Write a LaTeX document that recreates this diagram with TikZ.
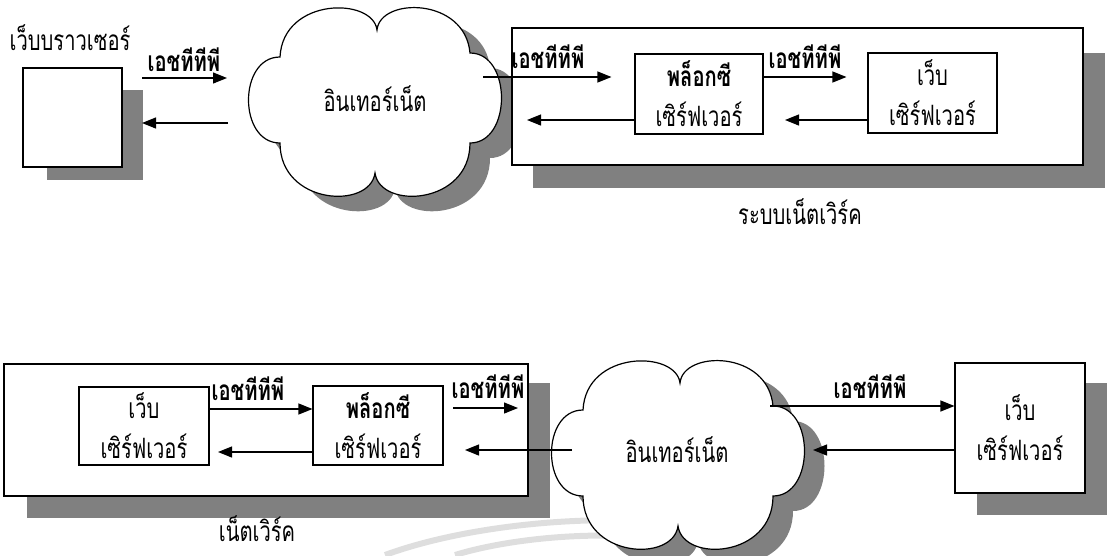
\documentclass[tikz,border=0pt]{standalone}
\usepackage{fontspec}
\newfontfamily\thai[Script=Thai,FakeStretch=0.72]{Loma}
\usetikzlibrary{arrows.meta}
\newcommand{\cloudshape}{(-95,-48) .. controls (-137,-48) and (-137,38) .. (-95,38)
  .. controls (-95,100) and (-5,105) .. (0,68)
  .. controls (5,105) and (95,100) .. (95,38)
  .. controls (137,38) and (137,-52) .. (95,-52)
  .. controls (90,-108) and (5,-108) .. (2,-75)
  .. controls (-2,-108) and (-92,-108) .. (-95,-48) -- cycle}
\begin{document}
\begin{tikzpicture}[x=1pt,y=-1pt,
  txt/.style={font=\thai\fontsize{28}{32}\selectfont, inner sep=0pt},
  bold/.style={font=\thai\bfseries\fontsize{28}{32}\selectfont, inner sep=0pt},
  box/.style={draw, line width=1.1pt, fill=white, inner sep=0pt, align=center,
    font=\thai\fontsize{28}{40}\selectfont},
  shade/.style={fill=black!50},
  cloudline/.style={draw, line width=1.2pt, fill=white},
  arr/.style={line width=1.2pt, -{Triangle[length=14pt,width=11pt]}},
  wm/.style={draw=black!13, line width=6pt}]
\useasboundingbox (0,0) rectangle (1110,555);
% watermark arcs
\draw[wm] (385,555) .. controls (480,520) and (650,505) .. (780,540);
\draw[wm] (455,555) .. controls (520,535) and (640,525) .. (730,552);

% ===== top row =====
\fill[shade] (47,90) rectangle (143,180);
\node[box, minimum width=99pt, minimum height=99pt] (browser) at (72.5,117.5) {};
\node[txt] (browserlbl) at (70,38) {เว็บบราวเซอร์};

\begin{scope}[shift={(395,120)}]
  \fill[shade] \cloudshape;
\end{scope}
\begin{scope}[shift={(375,105)}]
  \path[cloudline] \cloudshape;
\end{scope}
\node[txt] (cloudA) at (375,99) {อินเทอร์เน็ต};

\fill[shade] (533,53) rectangle (1105,188);
\node[box, minimum width=571pt, minimum height=137pt] (netA) at (797.5,96.5) {};
\node[box, minimum width=128pt, minimum height=80pt] (proxyA) at (699,94)
  {{\bfseries พล็อกซี}\\เซิร์ฟเวอร์};
\node[box, minimum width=129pt, minimum height=80pt] (webA) at (932.5,93)
  {เว็บ\\เซิร์ฟเวอร์};
\node[txt] (netAlbl) at (800,212) {ระบบเน็ตเวิร์ค};

\coordinate (a1s) at (142,78);  \coordinate (a1e) at (227,78);
\coordinate (a2s) at (228,123); \coordinate (a2e) at (142,123);
\coordinate (a3s) at (483,77);
\coordinate (a4e) at (527,120);
\draw[arr] (a1s) -- (a1e);
\draw[arr] (a2s) -- (a2e);
\draw[arr, shorten >=23pt] (a3s) -- (proxyA.west |- a3s);
\draw[arr] (proxyA.west |- a4e) -- (a4e);
\draw[arr, shorten >=21pt] (proxyA.east |- 0,77) -- (webA.west |- 0,77);
\draw[arr] (webA.west |- 0,120) -- (785,120);
\node[bold] (h1) at (184,60) {เอชทีทีพี};
\node[bold] (h2) at (548,57) {เอชทีทีพี};
\node[bold] (h3) at (805,57) {เอชทีทีพี};

% ===== bottom row =====
\fill[shade] (27,383) rectangle (550,518);
\node[box, minimum width=524pt, minimum height=132pt] (netB) at (266,430) {};
\node[box, minimum width=130pt, minimum height=78pt] (webB) at (144,426)
  {เว็บ\\เซิร์ฟเวอร์};
\node[box, minimum width=130pt, minimum height=79pt] (proxyB) at (378,425.5)
  {{\bfseries พล็อกซี}\\เซิร์ฟเวอร์};
\node[txt] (netBlbl) at (257,529) {เน็ตเวิร์ค};

\begin{scope}[shift={(698,473)}]
  \fill[shade] \cloudshape;
\end{scope}
\begin{scope}[shift={(678,458)}]
  \path[cloudline] \cloudshape;
\end{scope}
\node[txt] (cloudB) at (677,450) {อินเทอร์เน็ต};

\fill[shade] (977,383) rectangle (1107,515);
\node[box, minimum width=130pt, minimum height=130pt] (webC) at (1020,428)
  {เว็บ\\เซิร์ฟเวอร์};

\coordinate (b3s) at (453,408); \coordinate (b3e) at (518,408);
\coordinate (b4s) at (572,450); \coordinate (b4e) at (465,450);
\coordinate (b5s) at (770,406);
\coordinate (b6e) at (813,450);
\draw[arr] (webB.east |- 0,409) -- (proxyB.west |- 0,409);
\draw[arr] (proxyB.west |- 0,452) -- (218,452);
\draw[arr] (b3s) -- (b3e);
\draw[arr] (b4s) -- (b4e);
\draw[arr] (b5s) -- (webC.west |- b5s);
\draw[arr] (webC.west |- b6e) -- (b6e);
\node[bold] (h4) at (248,389) {เอชทีทีพี};
\node[bold] (h5) at (488,387) {เอชทีทีพี};
\node[bold] (h6) at (870,387) {เอชทีทีพี};
\end{tikzpicture}
\end{document}
